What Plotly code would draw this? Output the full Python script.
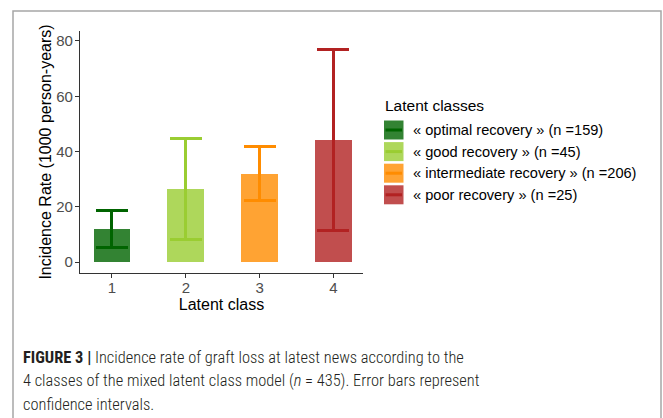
import plotly.graph_objects as go

# Incidence of graft loss per latent class (per 1000 person-years)
classes = [1, 2, 3, 4]
rates = [12.0, 26.4, 32.0, 44.2]
ci_low = [5.2, 8.2, 22.2, 11.4]
ci_high = [18.7, 44.8, 42.0, 77.0]
labels = [
    "« optimal recovery » (n =159)",
    "« good recovery » (n =45)",
    "« intermediate recovery » (n =206)",
    "« poor recovery » (n =25)",
]
line_colors = ["#006400", "#9acd32", "#ff8c00", "#b22222"]
fill_colors = ["rgba(0,100,0,0.8)", "rgba(154,205,50,0.8)",
               "rgba(255,140,0,0.8)", "rgba(178,34,34,0.8)"]

W, H = 663, 418
L, R, T, B = 80, 363, 31, 273  # plot area in page pixels


def px(x):
    return (x - L) / (R - L)


def py(y):
    return (B - y) / (B - T)


fig = go.Figure()
for c, v, lo, hi, fc, lc in zip(classes, rates, ci_low, ci_high, fill_colors, line_colors):
    fig.add_trace(go.Bar(
        x=[c], y=[v], width=0.5,
        marker=dict(color=fc, line=dict(width=0)),
        error_y=dict(type="data", symmetric=False, array=[hi - v], arrayminus=[v - lo],
                     color=lc, thickness=3, width=16),
        showlegend=False,
    ))

shapes = []
annotations = []

# outer frame of the figure panel
shapes.append(dict(type="rect", xref="paper", yref="paper",
                   x0=px(13), x1=px(661), y0=py(430), y1=py(11),
                   line=dict(color="#a6a6a6", width=1.5), fillcolor="rgba(0,0,0,0)", layer="below"))

# legend
annotations.append(dict(text="Latent classes", xref="paper", yref="paper",
                        x=px(383), y=py(105), xanchor="left", yanchor="middle",
                        showarrow=False, font=dict(size=15.5, color="#000000")))
for i, (lab, fc, lc) in enumerate(zip(labels, fill_colors, line_colors)):
    yc = 130 + i * 21.6
    shapes.append(dict(type="rect", xref="paper", yref="paper",
                       x0=px(384), x1=px(403.5), y0=py(yc + 9.5), y1=py(yc - 9.5),
                       fillcolor=fc, line=dict(width=0)))
    shapes.append(dict(type="line", xref="paper", yref="paper",
                       x0=px(385.5), x1=px(402), y0=py(yc), y1=py(yc),
                       line=dict(color=lc, width=3)))
    annotations.append(dict(text=lab, xref="paper", yref="paper",
                            x=px(411), y=py(yc), xanchor="left", yanchor="middle",
                            showarrow=False, font=dict(size=14.6, color="#000000")))

# caption
cap_font = dict(family="Roboto Condensed, Liberation Sans, sans-serif", size=16.4,
                color="#231f20", weight=300)
caption = [
    "<b>FIGURE 3 |</b> Incidence rate of graft loss at latest news according to the",
    "4 classes of the mixed latent class model (<i>n</i> = 435). Error bars represent",
    "confidence intervals.",
]
for i, line in enumerate(caption):
    annotations.append(dict(text=line, xref="paper", yref="paper",
                            x=px(21), y=py(357 + i * 23.6), xanchor="left", yanchor="middle",
                            showarrow=False, font=cap_font))

fig.update_layout(
    width=W, height=H,
    margin=dict(l=L, r=W - R, t=T, b=H - B, pad=0),
    paper_bgcolor="white", plot_bgcolor="white",
    font=dict(family="Liberation Sans, Arial, sans-serif", color="#000000"),
    bargap=0,
    shapes=shapes, annotations=annotations,
    xaxis=dict(range=[0.567, 4.4], tickvals=classes, ticktext=[str(c) for c in classes],
               showline=True, linecolor="#333333", linewidth=1.2,
               ticks="outside", ticklen=4, tickcolor="#333333", tickwidth=1.2,
               ticklabelstandoff=-3,
               tickfont=dict(size=15, color="#4d4d4d"), showgrid=False, zeroline=False,
               title=dict(text="Latent class", font=dict(size=16, color="#000000"), standoff=1)),
    yaxis=dict(range=[-3.9, 83.6], tickvals=[0, 20, 40, 60, 80],
               showline=True, linecolor="#333333", linewidth=1.2,
               ticks="outside", ticklen=4, tickcolor="#333333", tickwidth=1.2,
               ticklabelstandoff=-1,
               tickfont=dict(size=15, color="#4d4d4d"), showgrid=False, zeroline=False,
               title=dict(text="Incidence Rate (1000 person-years)",
                          font=dict(size=16, color="#000000"), standoff=0)),
)

fig.write_html("out.html")
